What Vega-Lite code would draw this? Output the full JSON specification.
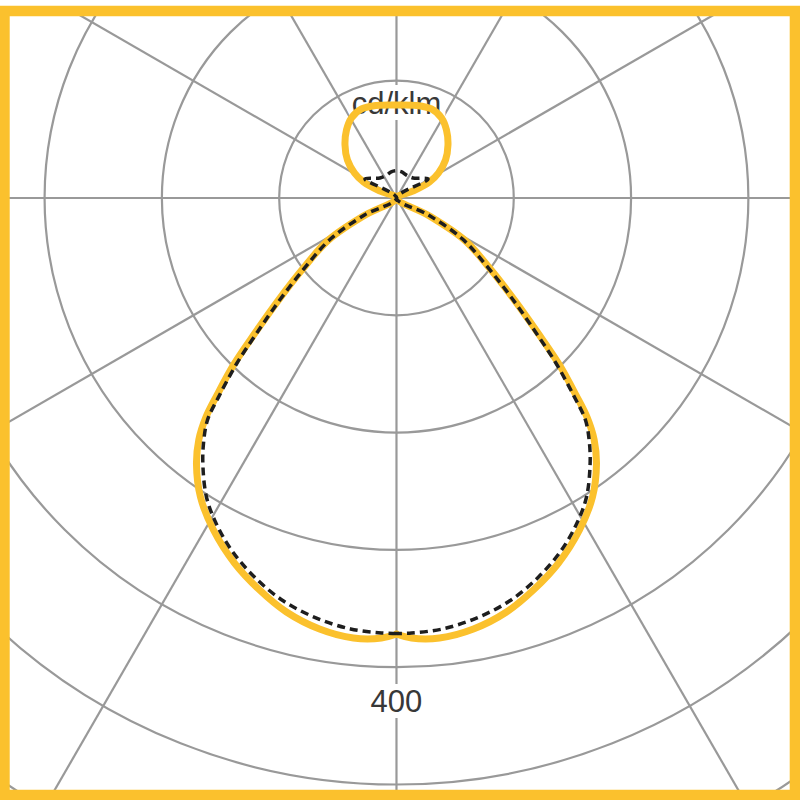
{
  "$schema": "https://vega.github.io/schema/vega-lite/v6.json",
  "width": 800,
  "height": 800,
  "padding": 0,
  "autosize": {"type": "none"},
  "background": "white",
  "config": {"view": {"stroke": null}},
  "datasets": {
    "rings": [{"r": 100}, {"r": 200}, {"r": 300}, {"r": 400}, {"r": 500}, {"r": 600}],
    "rays": [
      {"x": 0, "y": 1000, "x2": 0, "y2": -1000},
      {"x": 500, "y": 866, "x2": -500, "y2": -866},
      {"x": 866, "y": 500, "x2": -866, "y2": -500},
      {"x": 1000, "y": 0, "x2": -1000, "y2": 0},
      {"x": 866, "y": -500, "x2": -866, "y2": 500},
      {"x": 500, "y": -866, "x2": -500, "y2": 866}
    ],
    "labels": [
      {"label": "cd/klm", "x": 0, "y": 71.6},
      {"label": "400", "x": 0, "y": -437.8}
    ],
    "c90": [
      {"o": 1, "x": 0, "y": -371.7},
      {"o": 2, "x": -12.8, "y": -375.1},
      {"o": 3, "x": -36.7, "y": -375.1},
      {"o": 4, "x": -65.6, "y": -367.4},
      {"o": 5, "x": -93.8, "y": -352.9},
      {"o": 6, "x": -117.6, "y": -333.3},
      {"o": 7, "x": -138.1, "y": -311.2},
      {"o": 8, "x": -156.0, "y": -283.0},
      {"o": 9, "x": -167.1, "y": -254.9},
      {"o": 10, "x": -170.5, "y": -227.0},
      {"o": 11, "x": -168.5, "y": -206.0},
      {"o": 12, "x": -162.5, "y": -187.0},
      {"o": 13, "x": -153.0, "y": -168.0},
      {"o": 14, "x": -139.0, "y": -142.4},
      {"o": 15, "x": -120.6, "y": -115.1},
      {"o": 16, "x": -100.6, "y": -87.0},
      {"o": 17, "x": -79.3, "y": -59.7},
      {"o": 18, "x": -58.0, "y": -35.8},
      {"o": 19, "x": -28.1, "y": -15.3},
      {"o": 20, "x": 0, "y": 0},
      {"o": 21, "x": -14.5, "y": 6.0},
      {"o": 22, "x": -28.1, "y": 13.6},
      {"o": 23, "x": -35.8, "y": 21.3},
      {"o": 24, "x": -41.8, "y": 32.4},
      {"o": 25, "x": -43.9, "y": 45.2},
      {"o": 26, "x": -42.6, "y": 58.0},
      {"o": 27, "x": -38.4, "y": 68.2},
      {"o": 28, "x": -29.8, "y": 75.9},
      {"o": 29, "x": -17.1, "y": 78.9},
      {"o": 30, "x": 0, "y": 79.3},
      {"o": 31, "x": 17.1, "y": 78.9},
      {"o": 32, "x": 29.8, "y": 75.9},
      {"o": 33, "x": 38.4, "y": 68.2},
      {"o": 34, "x": 42.6, "y": 58.0},
      {"o": 35, "x": 43.9, "y": 45.2},
      {"o": 36, "x": 41.8, "y": 32.4},
      {"o": 37, "x": 35.8, "y": 21.3},
      {"o": 38, "x": 28.1, "y": 13.6},
      {"o": 39, "x": 14.5, "y": 6.0},
      {"o": 40, "x": 0, "y": 0},
      {"o": 41, "x": 28.1, "y": -15.3},
      {"o": 42, "x": 58.0, "y": -35.8},
      {"o": 43, "x": 79.3, "y": -59.7},
      {"o": 44, "x": 100.6, "y": -87.0},
      {"o": 45, "x": 120.6, "y": -115.1},
      {"o": 46, "x": 139.0, "y": -142.4},
      {"o": 47, "x": 153.0, "y": -168.0},
      {"o": 48, "x": 162.5, "y": -187.0},
      {"o": 49, "x": 168.5, "y": -206.0},
      {"o": 50, "x": 170.5, "y": -227.0},
      {"o": 51, "x": 167.1, "y": -254.9},
      {"o": 52, "x": 156.0, "y": -283.0},
      {"o": 53, "x": 138.1, "y": -311.2},
      {"o": 54, "x": 117.6, "y": -333.3},
      {"o": 55, "x": 93.8, "y": -352.9},
      {"o": 56, "x": 65.6, "y": -367.4},
      {"o": 57, "x": 36.7, "y": -375.1},
      {"o": 58, "x": 12.8, "y": -375.1},
      {"o": 59, "x": 0, "y": -371.7}
    ],
    "c0": [
      {"o": 1, "x": 0, "y": -371.3},
      {"o": 2, "x": -12.8, "y": -370.8},
      {"o": 3, "x": -39.2, "y": -367.4},
      {"o": 4, "x": -68.2, "y": -358.1},
      {"o": 5, "x": -96.3, "y": -343.6},
      {"o": 6, "x": -121.1, "y": -323.1},
      {"o": 7, "x": -140.7, "y": -300.1},
      {"o": 8, "x": -154.3, "y": -276.2},
      {"o": 9, "x": -162.0, "y": -254.9},
      {"o": 10, "x": -165.0, "y": -228.5},
      {"o": 11, "x": -164.5, "y": -208.9},
      {"o": 12, "x": -161.1, "y": -189.3},
      {"o": 13, "x": -151.7, "y": -169.7},
      {"o": 14, "x": -136.4, "y": -141.5},
      {"o": 15, "x": -118.5, "y": -114.2},
      {"o": 16, "x": -98.9, "y": -86.1},
      {"o": 17, "x": -77.6, "y": -58.8},
      {"o": 18, "x": -56.3, "y": -35.0},
      {"o": 19, "x": -27.3, "y": -14.5},
      {"o": 20, "x": 0, "y": 0},
      {"o": 21, "x": -26.9, "y": 16.2},
      {"o": 22, "x": -14.1, "y": 17.1},
      {"o": 23, "x": -8.5, "y": 19.5},
      {"o": 24, "x": -4.5, "y": 22.3},
      {"o": 25, "x": 0, "y": 23.2},
      {"o": 26, "x": 4.5, "y": 22.3},
      {"o": 27, "x": 8.5, "y": 19.5},
      {"o": 28, "x": 14.1, "y": 17.1},
      {"o": 29, "x": 26.9, "y": 16.2},
      {"o": 30, "x": 0, "y": 0},
      {"o": 31, "x": 27.3, "y": -14.5},
      {"o": 32, "x": 56.3, "y": -35.0},
      {"o": 33, "x": 77.6, "y": -58.8},
      {"o": 34, "x": 98.9, "y": -86.1},
      {"o": 35, "x": 118.5, "y": -114.2},
      {"o": 36, "x": 136.4, "y": -141.5},
      {"o": 37, "x": 151.7, "y": -169.7},
      {"o": 38, "x": 161.1, "y": -189.3},
      {"o": 39, "x": 164.5, "y": -208.9},
      {"o": 40, "x": 165.0, "y": -228.5},
      {"o": 41, "x": 162.0, "y": -254.9},
      {"o": 42, "x": 154.3, "y": -276.2},
      {"o": 43, "x": 140.7, "y": -300.1},
      {"o": 44, "x": 121.1, "y": -323.1},
      {"o": 45, "x": 96.3, "y": -343.6},
      {"o": 46, "x": 68.2, "y": -358.1},
      {"o": 47, "x": 39.2, "y": -367.4},
      {"o": 48, "x": 12.8, "y": -370.8},
      {"o": 49, "x": 0, "y": -371.3}
    ],
    "edge": [{"x": -338.0, "x2": 344.0, "y": 168.8, "y2": -513.2}],
    "frame": [{"x": -334.2, "x2": 339.7, "y": 159.4, "y2": -509.0}]
  },
  "layer": [
    {
      "data": {"name": "rings"},
      "mark": {"type": "point", "shape": "circle", "filled": false, "stroke": "#999999", "strokeWidth": 2.2, "opacity": 1, "clip": true},
      "encoding": {
        "x": {"datum": 0, "type": "quantitative", "scale": {"domain": [-338.0, 344.0], "nice": false, "zero": false}, "axis": null},
        "y": {"datum": 0, "type": "quantitative", "scale": {"domain": [-513.2, 168.8], "nice": false, "zero": false}, "axis": null},
        "size": {"field": "r", "type": "quantitative", "scale": {"type": "pow", "exponent": 2, "domain": [0, 100], "range": [0, 55037], "zero": true}, "legend": null}
      }
    },
    {
      "data": {"name": "rays"},
      "mark": {"type": "rule", "stroke": "#999999", "strokeWidth": 2.2, "clip": true},
      "encoding": {
        "x": {"field": "x", "type": "quantitative"},
        "y": {"field": "y", "type": "quantitative"},
        "x2": {"field": "x2"},
        "y2": {"field": "y2"}
      }
    },
    {
      "data": {"name": "labels"},
      "mark": {"type": "text", "font": "Liberation Sans", "fontSize": 31, "baseline": "alphabetic", "align": "center", "fill": "white", "stroke": "white", "strokeWidth": 12, "strokeJoin": "round"},
      "encoding": {
        "x": {"field": "x", "type": "quantitative"},
        "y": {"field": "y", "type": "quantitative"},
        "text": {"field": "label"}
      }
    },
    {
      "data": {"name": "labels"},
      "mark": {"type": "text", "font": "Liberation Sans", "fontSize": 31, "baseline": "alphabetic", "align": "center", "fill": "#383838"},
      "encoding": {
        "x": {"field": "x", "type": "quantitative"},
        "y": {"field": "y", "type": "quantitative"},
        "text": {"field": "label"}
      }
    },
    {
      "data": {"name": "c90"},
      "mark": {"type": "line", "stroke": "#FBC12D", "strokeWidth": 7, "interpolate": "catmull-rom", "strokeJoin": "round", "strokeCap": "round"},
      "encoding": {
        "x": {"field": "x", "type": "quantitative"},
        "y": {"field": "y", "type": "quantitative"},
        "order": {"field": "o", "type": "quantitative"}
      }
    },
    {
      "data": {"name": "c0"},
      "mark": {"type": "line", "stroke": "#1e1e1e", "strokeWidth": 3.5, "strokeDash": [8, 5], "interpolate": "catmull-rom"},
      "encoding": {
        "x": {"field": "x", "type": "quantitative"},
        "y": {"field": "y", "type": "quantitative"},
        "order": {"field": "o", "type": "quantitative"}
      }
    },
    {
      "data": {"name": "edge"},
      "mark": {"type": "rect", "fill": null, "stroke": "white", "strokeWidth": 12},
      "encoding": {
        "x": {"field": "x", "type": "quantitative"},
        "x2": {"field": "x2"},
        "y": {"field": "y", "type": "quantitative"},
        "y2": {"field": "y2"}
      }
    },
    {
      "data": {"name": "frame"},
      "mark": {"type": "rect", "fill": null, "stroke": "#FBC12D", "strokeWidth": 10.5},
      "encoding": {
        "x": {"field": "x", "type": "quantitative"},
        "x2": {"field": "x2"},
        "y": {"field": "y", "type": "quantitative"},
        "y2": {"field": "y2"}
      }
    }
  ]
}
